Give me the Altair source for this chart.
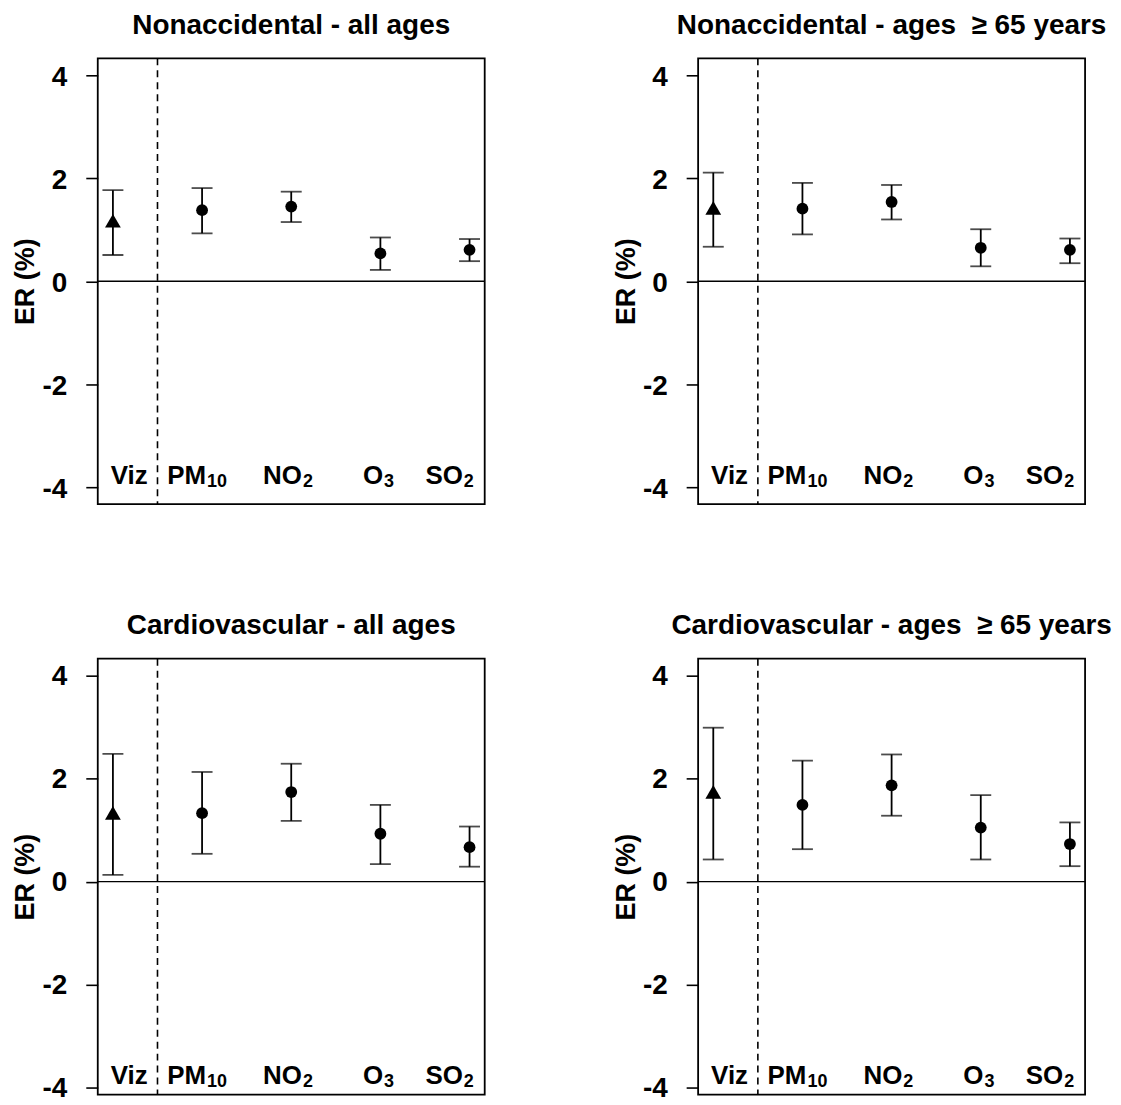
import altair as alt
import pandas as pd

# ---- data ----
positions = [1, 2, 3, 4, 5]
kinds = ["viz", "pollutant", "pollutant", "pollutant", "pollutant"]
label_main = ["Viz", "PM", "NO", "O", "SO"]
label_sub = ["", "10", "2", "3", "2"]
label_anchor = [1.39, 2.045, 3.12, 4.03, 4.925]   # x where main text ends / subscript starts

panel_titles = [
    "Nonaccidental - all ages",
    "Nonaccidental - ages\u00a0\u00a0\u2265 65 years",
    "Cardiovascular - all ages",
    "Cardiovascular - ages\u00a0\u00a0\u2265 65 years",
]

est_nonacc_all = [1.13, 1.38, 1.45, 0.54, 0.61]
lo_nonacc_all = [0.51, 0.93, 1.15, 0.22, 0.39]
hi_nonacc_all = [1.77, 1.81, 1.74, 0.85, 0.82]

est_nonacc_65 = [1.38, 1.41, 1.54, 0.65, 0.61]
lo_nonacc_65 = [0.67, 0.91, 1.20, 0.29, 0.35]
hi_nonacc_65 = [2.11, 1.91, 1.87, 1.01, 0.83]

est_cardio_all = [1.29, 1.33, 1.74, 0.93, 0.67]
lo_cardio_all = [0.13, 0.54, 1.18, 0.34, 0.29]
hi_cardio_all = [2.48, 2.13, 2.29, 1.49, 1.07]

est_cardio_65 = [1.70, 1.49, 1.87, 1.05, 0.73]
lo_cardio_65 = [0.43, 0.63, 1.28, 0.43, 0.30]
hi_cardio_65 = [2.99, 2.35, 2.47, 1.68, 1.15]

y_ticks = [-4, -2, 0, 2, 4]

panels = [
    (est_nonacc_all, lo_nonacc_all, hi_nonacc_all),
    (est_nonacc_65, lo_nonacc_65, hi_nonacc_65),
    (est_cardio_all, lo_cardio_all, hi_cardio_all),
    (est_cardio_65, lo_cardio_65, hi_cardio_65),
]

FONT = "Liberation Sans, Arial, Helvetica, sans-serif"
TRI = "M0,-1.155L1,0.577L-1,0.577Z"
LABEL_Y = -3.93

xs = alt.Scale(domain=[0.83, 5.17], nice=False, zero=False)


def y_axis(label_offset):
    return alt.Axis(
        values=y_ticks, title="ER (%)", grid=False, domain=False,
        tickSize=12, tickWidth=1.6, tickColor="black",
        labelFontSize=28, labelFontWeight="bold", labelColor="black", labelPadding=19,
        labelExpr="toString(datum.value)", labelOffset=label_offset,
        titleFontSize=27, titleFontWeight="bold", titleColor="black",
        titleX=-64, titleBaseline="alphabetic",
    )


def make_panel(i):
    e, lo, hi = panels[i]
    top_row = i < 2
    # the lower edge of the figure is cropped a little in the bottom row
    ys = alt.Scale(domain=[-4.33 if top_row else -4.136, 4.33], nice=False, zero=False)
    h = 447 if top_row else 437
    yaxis = y_axis(2 if top_row else 1)
    df = pd.DataFrame({
        "pos": positions, "main": label_main, "sub": label_sub, "anchor": label_anchor,
        "est": e, "lo": lo, "hi": hi, "kind": kinds,
    })
    base = alt.Chart(df)
    x = alt.X("pos:Q", scale=xs, axis=None)

    zero = base.mark_rule(color="black", strokeWidth=1.3).encode(
        y=alt.Y(datum=0, scale=ys, axis=yaxis)
    ).transform_filter("datum.pos == 1")
    dashed = base.mark_rule(color="black", strokeWidth=1.6, strokeDash=[7, 5]).encode(
        x=alt.X(datum=1.5, scale=xs, axis=None)
    ).transform_filter("datum.pos == 1")
    bars = base.mark_rule(color="black", strokeWidth=1.8).encode(
        x=x, y=alt.Y("lo:Q", scale=ys, axis=yaxis), y2="hi:Q"
    )
    cap_lo = base.mark_tick(color="black", orient="horizontal", size=21, thickness=1.8).encode(
        x=x, y=alt.Y("lo:Q", scale=ys, axis=yaxis)
    )
    cap_hi = base.mark_tick(color="black", orient="horizontal", size=21, thickness=1.8).encode(
        x=x, y=alt.Y("hi:Q", scale=ys, axis=yaxis)
    )
    dots = base.transform_filter("datum.kind == 'pollutant'").mark_point(
        shape="circle", filled=True, color="black", size=140, opacity=1
    ).encode(x=x, y=alt.Y("est:Q", scale=ys, axis=yaxis))
    tri = base.transform_filter("datum.kind == 'viz'").mark_point(
        shape=TRI, filled=True, color="black", size=250, opacity=1
    ).encode(x=x, y=alt.Y("est:Q", scale=ys, axis=yaxis))
    main_txt = base.mark_text(
        fontSize=26, fontWeight="bold", color="black", baseline="alphabetic", align="right"
    ).encode(
        x=alt.X("anchor:Q", scale=xs, axis=None),
        y=alt.Y(datum=LABEL_Y, scale=ys, axis=yaxis),
        text="main:N",
    )
    sub_txt = base.transform_filter("datum.sub != ''").mark_text(
        fontSize=18, fontWeight="bold", color="black", baseline="alphabetic", align="left",
        dx=1, dy=3,
    ).encode(
        x=alt.X("anchor:Q", scale=xs, axis=None),
        y=alt.Y(datum=LABEL_Y, scale=ys, axis=yaxis),
        text="sub:N",
    )
    return alt.layer(zero, dashed, bars, cap_lo, cap_hi, dots, tri, main_txt, sub_txt).properties(
        width=388, height=h,
        title=alt.TitleParams(
            panel_titles[i], fontSize=28, fontWeight="bold", color="black",
            offset=-4, baseline="alphabetic", anchor="middle",
        ),
    )


chart = alt.concat(
    *[make_panel(i) for i in range(4)],
    columns=2,
    spacing={"row": 155, "column": 214},
    bounds="flush",
).properties(
    padding={"left": 3, "top": 1, "right": 0, "bottom": -5},
).configure(
    font=FONT,
).configure_view(
    stroke="black", strokeWidth=1.8,
)

chart.save("out.html", embed_options={"renderer": "svg", "actions": False})
